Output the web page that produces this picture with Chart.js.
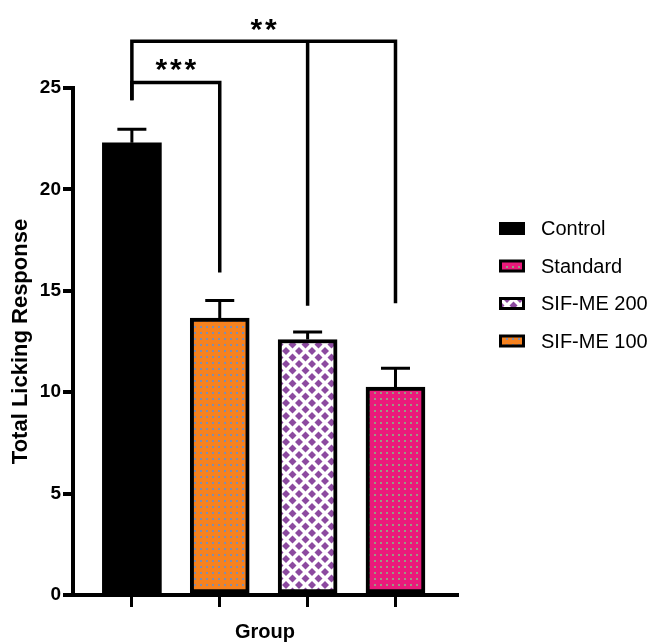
<!DOCTYPE html>
<html>
<head>
<meta charset="utf-8">
<script src="https://cdn.jsdelivr.net/npm/chart.js@4.4.1/dist/chart.umd.min.js"></script>
<style>
  html, body { margin: 0; padding: 0; background: #ffffff; }
  canvas { display: block; }
</style>
</head>
<body>
<canvas id="chart" width="651" height="644"></canvas>
<script>
// Groups in legend order, the x slot each bar sits in, means and SEM
const groups = ['Control', 'Standard', 'SIF-ME 200', 'SIF-ME 100'];
const positions = [0, 3, 2, 1];
const means = [22.3, 10.25, 12.6, 13.65];
const sems = [0.67, 0.93, 0.37, 0.87];
const yTicks = [0, 5, 10, 15, 20, 25];

// Significance brackets: bar height of the bracket, legs [slot, lower end], star label
const bracketLevels = [27.3, 25.27];
const bracketLegs = [
  [[0, 24.4], [2, 14.26], [3, 14.39]],
  [[0, 24.4], [1, 15.9]]
];
const bracketLabels = ['**', '***'];
const bracketLabelX = [1.5, 0.5];
const bracketLabelY = [28.15, 26.2];

const FONT = "'Liberation Sans', Arial, Helvetica, sans-serif";

function dotPattern(bg, dot) {
  const c = document.createElement('canvas');
  c.width = 6; c.height = 6;
  const g = c.getContext('2d');
  g.fillStyle = bg; g.fillRect(0, 0, 6, 6);
  g.fillStyle = dot; g.fillRect(2, 2, 2, 2);
  return g.createPattern(c, 'repeat');
}

function diamondPattern(bg, fg) {
  const s = 13, r = 4;
  const c = document.createElement('canvas');
  c.width = s; c.height = s;
  const g = c.getContext('2d');
  g.fillStyle = bg; g.fillRect(0, 0, s, s);
  g.fillStyle = fg;
  const centers = [[0, 0], [s, 0], [0, s], [s, s], [s / 2, s / 2]];
  centers.forEach(([cx, cy]) => {
    g.beginPath();
    g.moveTo(cx, cy - r); g.lineTo(cx + r, cy); g.lineTo(cx, cy + r); g.lineTo(cx - r, cy);
    g.closePath(); g.fill();
  });
  return g.createPattern(c, 'repeat');
}

const fills = [
  '#000000',
  dotPattern('#ea1a7b', '#9a9a82'),
  diamondPattern('#ffffff', '#8c4aa0'),
  dotPattern('#f6821f', '#7f8db0')
];

const errorBars = {
  id: 'errorBars',
  afterDatasetsDraw(chart) {
    const { ctx, scales: { x, y } } = chart;
    ctx.save();
    ctx.strokeStyle = '#000';
    ctx.lineWidth = 3;
    groups.forEach((g, i) => {
      const px = x.getPixelForValue(positions[i]);
      const top = y.getPixelForValue(means[i]);
      const hi = y.getPixelForValue(means[i] + sems[i]);
      ctx.beginPath();
      ctx.moveTo(px, top); ctx.lineTo(px, hi);
      ctx.moveTo(px - 14.5, hi); ctx.lineTo(px + 14.5, hi);
      ctx.stroke();
    });
    ctx.restore();
  }
};

const brackets = {
  id: 'brackets',
  afterDraw(chart) {
    const { ctx, scales: { x, y } } = chart;
    ctx.save();
    ctx.strokeStyle = '#000';
    ctx.lineWidth = 3.5;
    ctx.lineCap = 'butt';
    ctx.lineJoin = 'miter';
    bracketLevels.forEach((lvl, b) => {
      const legs = bracketLegs[b];
      const py = y.getPixelForValue(lvl);
      const x0 = x.getPixelForValue(legs[0][0]);
      const x1 = x.getPixelForValue(legs[legs.length - 1][0]);
      ctx.beginPath();
      ctx.moveTo(x0, y.getPixelForValue(legs[0][1]));
      ctx.lineTo(x0, py);
      ctx.lineTo(x1, py);
      ctx.lineTo(x1, y.getPixelForValue(legs[legs.length - 1][1]));
      for (let k = 1; k < legs.length - 1; k++) {
        const lx = x.getPixelForValue(legs[k][0]);
        ctx.moveTo(lx, py);
        ctx.lineTo(lx, y.getPixelForValue(legs[k][1]));
      }
      ctx.stroke();
      // star label, one glyph at a time for wider spacing
      ctx.fillStyle = '#000';
      ctx.font = 'bold 30px ' + FONT;
      ctx.textAlign = 'center';
      ctx.textBaseline = 'middle';
      const label = bracketLabels[b];
      const cx = x.getPixelForValue(bracketLabelX[b]);
      const cy = y.getPixelForValue(bracketLabelY[b]);
      const pitch = 14.5;
      for (let k = 0; k < label.length; k++) {
        ctx.fillText(label[k], cx + (k - (label.length - 1) / 2) * pitch, cy + 7);
      }
    });
    ctx.restore();
  }
};

const sideLegend = {
  id: 'sideLegend',
  afterDraw(chart) {
    const { ctx } = chart;
    ctx.save();
    chart.data.datasets.forEach((ds, i) => {
      const cy = 228.5 + i * 37.5;
      const bx = 499, bw = 26, bh = 13;
      ctx.fillStyle = '#000';
      ctx.fillRect(bx, cy - bh / 2, bw, bh);
      if (i > 0) {
        ctx.fillStyle = ds.backgroundColor;
        ctx.fillRect(bx + 3, cy - bh / 2 + 3, bw - 6, bh - 6);
      }
      ctx.fillStyle = '#000';
      ctx.font = '20px ' + FONT;
      ctx.textAlign = 'left';
      ctx.textBaseline = 'middle';
      ctx.fillText(ds.label, 541, cy + 1);
    });
    ctx.restore();
  }
};

new Chart(document.getElementById('chart'), {
  type: 'bar',
  data: {
    datasets: groups.map((g, i) => ({
      label: g,
      data: [{ x: positions[i], y: means[i] }],
      backgroundColor: fills[i],
      borderColor: '#000',
      borderWidth: i === 0 ? 0 : 4,
      borderSkipped: false,
      barThickness: 59,
      grouped: false
    }))
  },
  options: {
    responsive: false,
    animation: false,
    layout: { padding: { top: 88, right: 194, left: 0, bottom: 0 } },
    plugins: { legend: { display: false }, tooltip: { enabled: false } },
    scales: {
      x: {
        type: 'linear',
        min: -0.67,
        max: 3.7,
        offset: false,
        z: 1,
        afterBuildTicks: s => { s.ticks = [0, 1, 2, 3].map(v => ({ value: v })); },
        afterFit: s => { s.height = 49; },
        ticks: { callback: () => '' },
        grid: { offset: false, drawOnChartArea: false, color: '#000', lineWidth: 3, tickLength: 12 },
        border: { color: '#000', width: 4 },
        title: {
          display: true, text: 'Group', color: '#000',
          font: { family: FONT, size: 20, weight: 'bold' },
          padding: { top: 0, bottom: 0 }
        }
      },
      y: {
        min: 0,
        max: 25,
        z: 1,
        afterBuildTicks: s => { s.ticks = yTicks.map(v => ({ value: v })); },
        afterFit: s => { s.width = 73; },
        ticks: { color: '#000', font: { family: FONT, size: 19, weight: 'bold' }, padding: 2 },
        grid: { drawOnChartArea: false, color: '#000', lineWidth: 4, tickLength: 10 },
        border: { color: '#000', width: 4 },
        title: {
          display: true, text: 'Total Licking Response', color: '#000',
          font: { family: FONT, size: 22, weight: 'bold' },
          padding: { top: 8, bottom: 0 }
        }
      }
    }
  },
  plugins: [errorBars, brackets, sideLegend]
});
</script>
</body>
</html>
